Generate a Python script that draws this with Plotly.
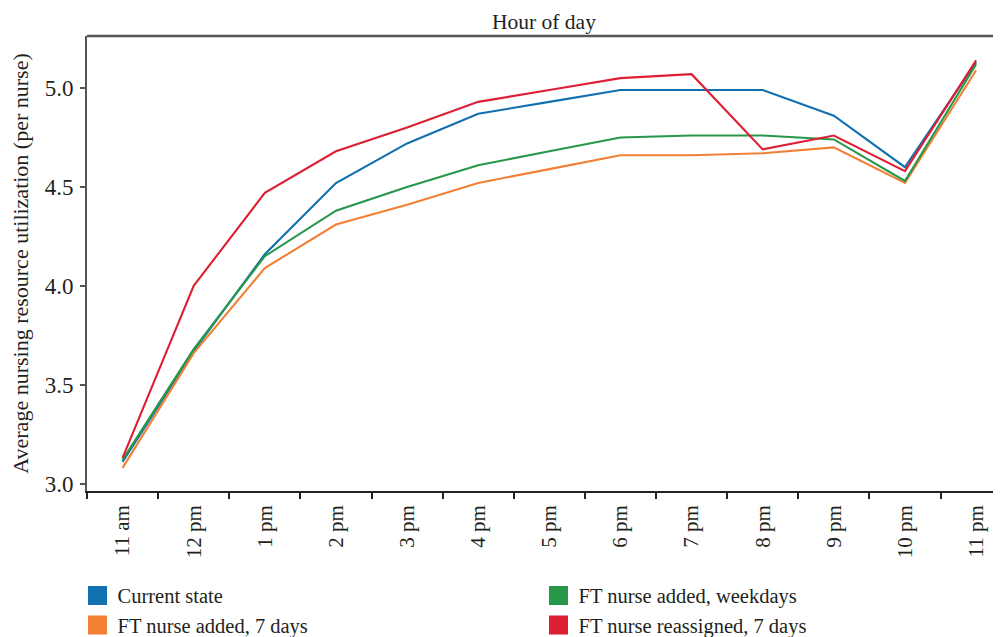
import plotly.graph_objects as go

hours = ["11 am", "12 pm", "1 pm", "2 pm", "3 pm", "4 pm", "5 pm", "6 pm",
         "7 pm", "8 pm", "9 pm", "10 pm", "11 pm"]

current_state = [3.11, 3.67, 4.16, 4.52, 4.72, 4.87, 4.93, 4.99, 4.99, 4.99, 4.86, 4.60, 5.13]
ft_added_7days = [3.08, 3.66, 4.09, 4.31, 4.41, 4.52, 4.59, 4.66, 4.66, 4.67, 4.70, 4.52, 5.09]
ft_added_weekdays = [3.12, 3.68, 4.15, 4.38, 4.50, 4.61, 4.68, 4.75, 4.76, 4.76, 4.74, 4.53, 5.12]
ft_reassigned_7days = [3.13, 4.00, 4.47, 4.68, 4.80, 4.93, 4.99, 5.05, 5.07, 4.69, 4.76, 4.58, 5.14]

series = [
    ("Current state", current_state, "#1170b0", 1),
    ("FT nurse added, 7 days", ft_added_7days, "#f28034", 3),
    ("FT nurse added, weekdays", ft_added_weekdays, "#27974a", 2),
    ("FT nurse reassigned, 7 days", ft_reassigned_7days, "#dd1f34", 4),
]

FONT = "Liberation Serif"
fig = go.Figure()
for name, vals, color, rank in series:
    fig.add_trace(go.Scatter(x=hours, y=vals, mode="lines", name=name,
                             line=dict(color=color, width=2.1), showlegend=False))
for name, vals, color, rank in series:
    fig.add_trace(go.Scatter(x=[None], y=[None], mode="markers", name=name,
                             legendrank=rank,
                             marker=dict(symbol="square", size=16, color=color,
                                         line=dict(color=color, width=3))))

# The page shows the figure offset by the default 8px body margin,
# so the figure is sized to the visible area.
fig.update_layout(
    width=993, height=629,
    margin=dict(l=79, r=0, t=28, b=146, autoexpand=False),
    paper_bgcolor="white", plot_bgcolor="white",
    font=dict(family=FONT, size=22, color="#231f20"),
    showlegend=True,
    legend=dict(orientation="h", x=-0.0104, xanchor="left", y=-0.186, yanchor="top",
                entrywidth=416, entrywidthmode="pixels",
                font=dict(family=FONT, size=20.5, color="#231f20"),
                itemclick=False, traceorder="normal", tracegroupgap=0),
    xaxis=dict(type="category", categoryorder="array", categoryarray=hours,
               range=[-0.5, 12.35], side="bottom", automargin=False,
               tickson="boundaries", ticks="outside", ticklen=6, tickwidth=1.5,
               tickcolor="#222", showline=True, linecolor="#222", linewidth=1.5,
               tickangle=-90, tickfont=dict(family=FONT, size=21),
               showgrid=False, zeroline=False, ticklabelstandoff=4),
    yaxis=dict(range=[2.963, 5.263], tickvals=[3.0, 3.5, 4.0, 4.5, 5.0],
               tickformat=".1f", ticks="outside", ticklen=5, tickwidth=1.5,
               tickcolor="#555", showline=True, linecolor="#555", linewidth=2,
               tickfont=dict(family=FONT, size=23), showgrid=False, zeroline=False,
               ticklabelstandoff=2, automargin=False,
               title=dict(text="Average nursing resource utilization (per nurse)",
                          font=dict(family=FONT, size=22), standoff=10)),
    shapes=[dict(type="line", xref="paper", yref="paper", x0=0, x1=1, y0=1, y1=1,
                 line=dict(color="#555", width=2.5))],
    annotations=[dict(text="Hour of day", xref="paper", yref="paper", x=0.5, y=1,
                      yshift=0, xanchor="center", yanchor="bottom", showarrow=False,
                      font=dict(family=FONT, size=21.5, color="#231f20"))],
)

fig.write_html("out.html")
